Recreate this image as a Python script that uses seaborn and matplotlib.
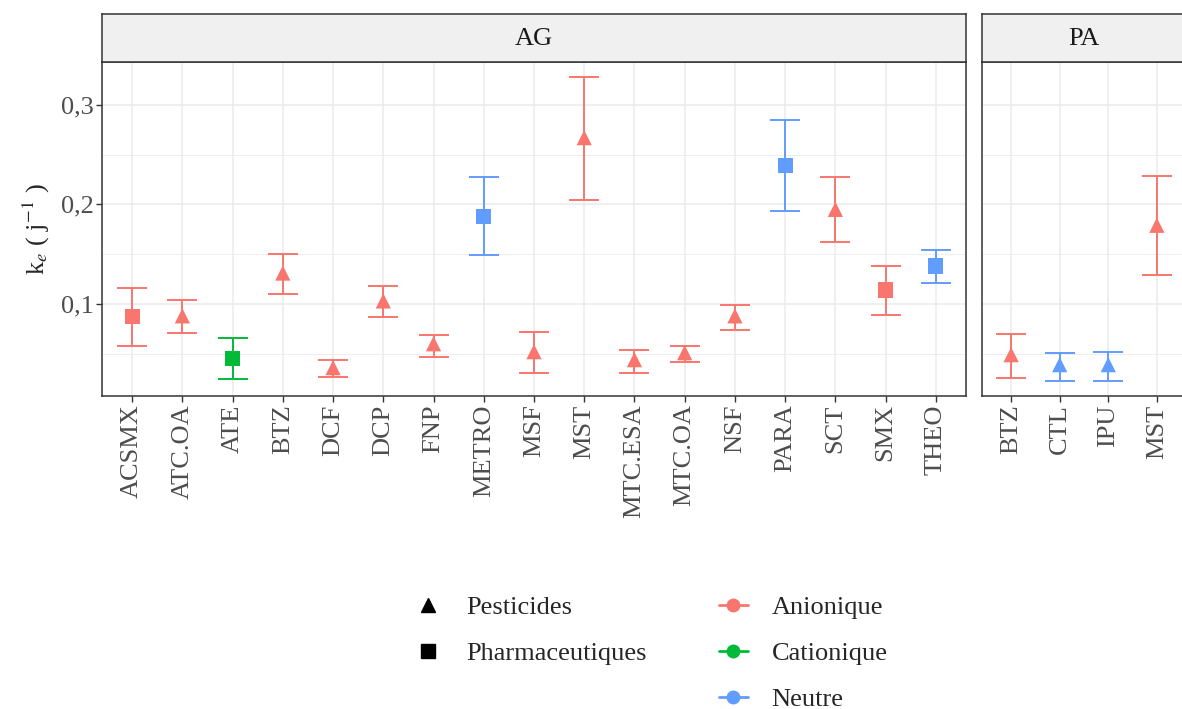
import numpy as np
import pandas as pd
import matplotlib
matplotlib.use("Agg")
import matplotlib.pyplot as plt
from matplotlib.lines import Line2D
import seaborn as sns

# ── data ──────────────────────────────────────────────────────────────────────
ag_names = ["ACSMX", "ATC.OA", "ATE", "BTZ", "DCF", "DCP", "FNP", "METRO", "MSF",
            "MST", "MTC.ESA", "MTC.OA", "NSF", "PARA", "SCT", "SMX", "THEO"]
ag_ke    = [0.087, 0.088, 0.045, 0.131, 0.036, 0.103, 0.060, 0.188, 0.052,
            0.267, 0.044, 0.051, 0.088, 0.239, 0.195, 0.114, 0.138]
ag_low   = [0.058, 0.071, 0.025, 0.110, 0.027, 0.087, 0.047, 0.149, 0.031,
            0.204, 0.031, 0.042, 0.074, 0.193, 0.162, 0.089, 0.121]
ag_high  = [0.116, 0.104, 0.066, 0.150, 0.044, 0.118, 0.069, 0.227, 0.072,
            0.328, 0.054, 0.058, 0.099, 0.285, 0.227, 0.138, 0.154]
ag_type  = ["Pharmaceutiques", "Pesticides", "Pharmaceutiques", "Pesticides", "Pesticides",
            "Pesticides", "Pesticides", "Pharmaceutiques", "Pesticides", "Pesticides",
            "Pesticides", "Pesticides", "Pesticides", "Pharmaceutiques", "Pesticides",
            "Pharmaceutiques", "Pharmaceutiques"]
ag_charge = ["Anionique", "Anionique", "Cationique", "Anionique", "Anionique", "Anionique",
             "Anionique", "Neutre", "Anionique", "Anionique", "Anionique", "Anionique",
             "Anionique", "Neutre", "Anionique", "Anionique", "Neutre"]

pa_names  = ["BTZ", "CTL", "IPU", "MST"]
pa_ke     = [0.049, 0.039, 0.039, 0.179]
pa_low    = [0.026, 0.023, 0.023, 0.129]
pa_high   = [0.070, 0.051, 0.052, 0.228]
pa_type   = ["Pesticides", "Pesticides", "Pesticides", "Pesticides"]
pa_charge = ["Anionique", "Neutre", "Neutre", "Anionique"]

charges = ["Anionique", "Cationique", "Neutre"]
palette = {"Anionique": "#F8766D", "Cationique": "#00BA38", "Neutre": "#619CFF"}
markers = {"Pesticides": "^", "Pharmaceutiques": "s"}

FS = 19

# ── style ─────────────────────────────────────────────────────────────────────
sns.set_style("white")
plt.rcParams["font.family"] = ["Liberation Serif", "DejaVu Serif"]
plt.rcParams["mathtext.fontset"] = "stix"

fig = plt.figure(figsize=(11.82, 7.09), dpi=100)
W, H = 1182, 709
bottom_px, top_px = 396, 62
ax_ag = fig.add_axes([102 / W, 1 - bottom_px / H, 864 / W, (bottom_px - top_px) / H])
ax_pa = fig.add_axes([982 / W, 1 - bottom_px / H, 204 / W, (bottom_px - top_px) / H])


def draw_panel(ax, names, ke, low, high, types, charge, title):
    df = pd.DataFrame({"x": np.arange(len(names)), "ke": ke, "low": low, "high": high,
                       "type": types, "charge": charge})
    for c in charges:
        sub = df[df["charge"] == c]
        if len(sub):
            ax.errorbar(sub["x"], sub["ke"],
                        yerr=[sub["ke"] - sub["low"], sub["high"] - sub["ke"]],
                        fmt="none", ecolor=palette[c], elinewidth=1.4,
                        capsize=11, capthick=1.4, zorder=2)
    sns.scatterplot(data=df, x="x", y="ke", hue="charge", style="type",
                    palette=palette, markers=markers, s=120, edgecolor="none",
                    legend=False, ax=ax, zorder=3)
    ax.set_xlim(-0.6, len(names) - 0.4)
    ax.set_ylim(0.0075, 0.343)
    ax.set_xticks(df["x"])
    ax.set_xticklabels(names, rotation=90, fontsize=FS, color="#4D4D4D")
    ax.set_yticks([0.1, 0.2, 0.3])
    ax.set_yticks([0.05, 0.15, 0.25], minor=True)
    ax.set_xlabel("")
    ax.set_ylabel("")
    ax.grid(True, which="major", color="#EBEBEB", linewidth=1.1)
    ax.grid(True, which="minor", axis="y", color="#EBEBEB", linewidth=0.6)
    ax.set_axisbelow(True)
    ax.tick_params(axis="both", which="major", length=4, width=1, color="#333333",
                   bottom=True, left=True, pad=2)
    ax.tick_params(axis="y", which="minor", length=0)
    for s in ax.spines.values():
        s.set_color("#333333")
        s.set_linewidth(1.1)
    # strip
    strip = ax.inset_axes([0, 1.0, 1, 48 / (bottom_px - top_px)])
    strip.set_facecolor("#F0F0F0")
    strip.set_xticks([])
    strip.set_yticks([])
    for s in strip.spines.values():
        s.set_color("#333333")
        s.set_linewidth(1.1)
    strip.text(0.5, 0.47, title, ha="center", va="center", fontsize=FS, color="#1A1A1A")


draw_panel(ax_ag, ag_names, ag_ke, ag_low, ag_high, ag_type, ag_charge, "AG")
draw_panel(ax_pa, pa_names, pa_ke, pa_low, pa_high, pa_type, pa_charge, "PA")

ax_ag.set_yticklabels(["0,1", "0,2", "0,3"], fontsize=FS, color="#4D4D4D")
ax_pa.tick_params(axis="y", left=False, labelleft=False)
ax_ag.set_ylabel(r"k$_e$ ( j$^{-1}$ )", fontsize=FS, labelpad=6)

# ── legends ───────────────────────────────────────────────────────────────────
shape_handles = [Line2D([], [], marker=markers[t], color="black", linestyle="none",
                        markersize=10) for t in markers]
fig.legend(shape_handles, list(markers), loc="upper left",
           bbox_to_anchor=(384 / W, 1 - 572 / H), frameon=False, fontsize=FS,
           handlelength=1.5, handletextpad=0.7, labelspacing=0.85)
color_handles = [Line2D([], [], marker="o", color=palette[c], markersize=9,
                        linewidth=2) for c in charges]
fig.legend(color_handles, charges, loc="upper left",
           bbox_to_anchor=(695 / W, 1 - 572 / H), frameon=False, fontsize=FS,
           handlelength=1.1, handletextpad=0.9, labelspacing=0.85)

plt.savefig("out.png", dpi=100)
